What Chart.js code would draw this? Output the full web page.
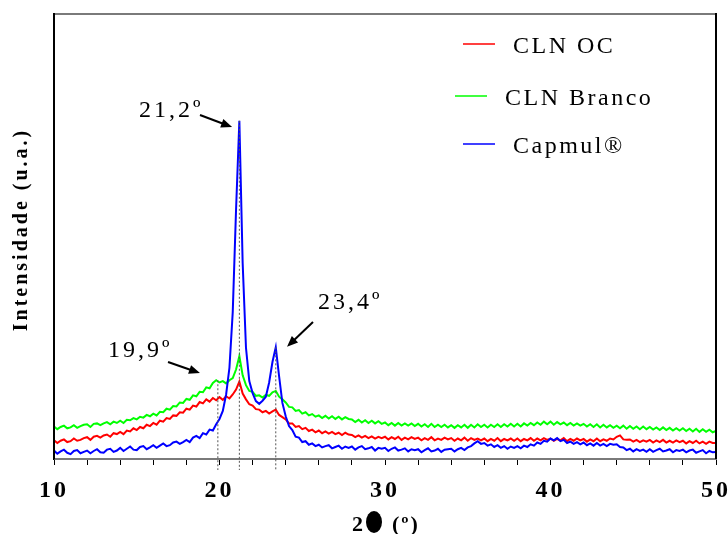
<!DOCTYPE html>
<html>
<head>
<meta charset="utf-8">
<script src="https://cdn.jsdelivr.net/npm/chart.js@4.4.1/dist/chart.umd.min.js"></script>
<style>
  html, body { margin: 0; padding: 0; background: #fff; overflow: hidden; }
  canvas { display: block; }
</style>
</head>
<body>
<canvas id="xrd" width="728" height="534"></canvas>
<script>
// difratogramas: 2θ de 10 a 50 com passo de 0,2
const thetaStart = 10;
const thetaStep = 0.2;

const seriesNames = ['CLN OC', 'CLN Branco', 'Capmul®'];
const seriesColors = ['#ff0000', '#00ff00', '#0000ff'];

const clnOC = [
  4.2, 3.6, 4.1, 4.4, 3.8, 4.0, 4.6, 4.1, 4.3, 4.7,
  4.9, 4.3, 5.0, 5.2, 4.8, 5.3, 5.5, 5.0, 5.8, 5.6,
  6.1, 5.6, 6.4, 6.2, 6.9, 6.5, 7.2, 6.9, 7.7, 7.4,
  8.1, 7.7, 8.6, 8.4, 9.2, 9.0, 9.8, 9.7, 10.5, 10.4,
  11.3, 11.1, 12.0, 11.8, 12.8, 12.5, 13.4, 12.9, 13.7, 13.2,
  13.9, 13.3, 14.1, 13.6, 14.5, 15.6, 17.4, 14.7, 13.4, 12.3,
  12.0, 11.2, 11.1, 10.5, 10.8, 10.2, 10.7, 11.1, 9.9, 9.4,
  8.9, 8.0, 8.0, 7.2, 7.4, 6.7, 7.0, 6.3, 6.6, 6.0,
  6.4, 5.8, 6.2, 5.7, 6.1, 5.6, 5.9, 5.4, 5.9, 5.5,
  5.4, 4.9, 5.3, 4.8, 5.2, 4.7, 5.1, 4.6, 5.0, 4.7,
  5.0, 4.4, 4.9, 4.5, 5.0, 4.3, 4.8, 4.4, 4.9, 4.5,
  4.8, 4.2, 4.7, 4.3, 4.9, 4.2, 4.6, 4.3, 4.8, 4.4,
  4.7, 4.1, 4.6, 4.2, 4.8, 4.1, 4.7, 4.3, 4.6, 4.2,
  4.6, 4.0, 4.5, 4.1, 4.7, 4.0, 4.5, 4.2, 4.6, 4.1,
  4.6, 4.0, 4.5, 4.2, 4.7, 4.1, 4.6, 4.2, 4.7, 4.3,
  4.6, 4.1, 4.5, 4.2, 4.7, 4.0, 4.5, 4.1, 4.6, 4.2,
  4.5, 3.9, 4.4, 4.0, 4.6, 4.0, 4.4, 4.1, 4.6, 4.4,
  5.0, 5.3, 4.4, 4.3, 4.4, 3.9, 4.3, 3.8, 4.2, 3.9,
  4.3, 3.7, 4.2, 3.8, 4.3, 3.7, 4.1, 3.7, 4.2, 3.8,
  4.1, 3.5, 4.0, 3.6, 4.1, 3.5, 3.9, 3.4, 3.9, 3.6,
  3.6
];

const clnBranco = [
  7.3, 6.7, 7.2, 7.5, 6.9, 7.1, 7.6, 7.0, 7.4, 7.7,
  7.8, 7.2, 7.9, 8.0, 7.6, 8.0, 8.3, 7.8, 8.4, 8.1,
  8.6, 8.1, 8.8, 8.7, 9.2, 8.9, 9.5, 9.3, 9.9, 9.6,
  10.2, 9.8, 10.6, 10.5, 11.3, 11.1, 11.9, 11.8, 12.7, 12.6,
  13.5, 13.3, 14.3, 14.1, 15.1, 15.0, 16.1, 15.9, 17.1, 17.7,
  17.2, 17.5, 17.0, 17.7, 18.2, 20.1, 23.1, 18.8, 16.6, 15.3,
  15.1, 14.2, 14.3, 13.8, 14.4, 14.2, 15.0, 15.3, 14.0, 13.4,
  12.7, 11.7, 11.6, 10.8, 11.0, 10.2, 10.5, 9.8, 10.1, 9.5,
  9.8, 9.2, 9.7, 9.1, 9.6, 9.0, 9.5, 8.9, 9.4, 9.0,
  8.9, 8.3, 8.8, 8.2, 8.7, 8.1, 8.6, 8.0, 8.5, 7.9,
  8.2, 7.6, 8.1, 7.5, 8.1, 7.5, 8.0, 7.5, 8.0, 7.4,
  7.9, 7.3, 7.8, 7.2, 7.9, 7.2, 7.7, 7.2, 7.7, 7.1,
  7.6, 7.0, 7.6, 7.1, 7.7, 7.0, 7.7, 7.1, 7.8, 7.2,
  7.7, 7.1, 7.7, 7.2, 7.8, 7.2, 7.8, 7.3, 7.9, 7.3,
  7.9, 7.3, 8.0, 7.5, 8.1, 7.6, 8.2, 7.7, 8.4, 7.8,
  8.4, 7.7, 8.3, 7.8, 8.2, 7.6, 8.1, 7.5, 8.0, 7.5,
  7.9, 7.3, 7.8, 7.2, 7.8, 7.1, 7.7, 7.1, 7.6, 7.0,
  7.5, 6.9, 7.5, 6.8, 7.4, 6.8, 7.3, 6.7, 7.3, 6.7,
  7.2, 6.6, 7.1, 6.5, 7.1, 6.5, 7.0, 6.4, 6.9, 6.4,
  6.9, 6.3, 6.8, 6.2, 6.8, 6.1, 6.7, 6.1, 6.6, 6.0,
  6.3
];

const capmul = [
  1.9, 1.2, 1.7, 2.1, 1.4, 1.1, 1.8, 2.0, 1.3, 1.6,
  1.9, 1.3, 1.8, 2.2, 1.5, 1.4, 2.1, 2.3, 1.6, 1.9,
  2.5, 1.8, 2.3, 2.8, 2.1, 2.0, 2.7, 2.9, 2.2, 2.6,
  3.1, 2.5, 3.0, 3.5, 2.9, 3.1, 3.7, 3.9, 3.4, 3.8,
  4.3, 3.8, 4.8, 5.2, 4.7, 5.8, 5.5, 6.6, 6.4, 7.8,
  9.0, 10.8, 14.5, 20.5, 33.0, 56.0, 76.0, 44.0, 25.0, 17.5,
  14.8, 13.0, 12.4, 13.1, 14.0, 17.2, 21.8, 25.1, 18.6, 12.6,
  9.6, 7.4, 6.5, 5.0, 4.8, 3.8, 4.0, 3.2, 3.5, 2.9,
  3.2, 2.6, 2.9, 3.1, 2.4, 2.7, 3.0, 2.3, 2.8, 2.5,
  2.8, 2.1, 2.6, 2.9, 2.2, 2.4, 2.7, 1.9, 2.5, 2.3,
  2.5, 1.8, 2.3, 2.6, 1.9, 2.1, 2.4, 1.7, 2.2, 2.0,
  2.2, 1.5, 2.0, 2.4, 1.7, 1.9, 2.3, 1.6, 2.1, 2.2,
  2.3, 1.7, 2.2, 2.5, 2.0, 2.6, 2.9, 3.5, 4.0, 3.4,
  3.6, 3.0, 3.3, 2.7, 3.1, 2.5, 2.9, 2.3, 2.8, 2.5,
  2.9, 2.4, 3.0, 2.7, 3.3, 3.0, 3.7, 3.4, 4.1, 3.9,
  4.6, 4.2, 4.7, 4.0, 4.3, 3.6, 3.9, 3.4, 3.8, 3.3,
  3.7, 3.1, 3.5, 3.0, 3.6, 3.0, 3.4, 2.9, 3.4, 3.2,
  3.3, 2.7, 2.6, 2.0, 2.3, 1.7, 2.2, 1.8, 2.1, 1.6,
  2.2, 1.6, 2.0, 2.3, 1.7, 1.9, 2.2, 1.5, 2.0, 1.8,
  2.1, 1.5, 1.9, 2.1, 1.4, 1.7, 2.0, 1.3, 1.8, 1.5,
  1.6
];

const xTickLabels = [10, 20, 30, 40, 50];

// picos marcados: texto, posição do texto, cauda e ponta da seta (em unidades dos eixos)
const peakLabels = [
  { text: '19,9º', at: 19.9, tx: 13.26, ty: 22.9, from: [16.89, 21.8], to: [18.82, 19.3] },
  { text: '21,2º', at: 21.2, tx: 15.14, ty: 76.9, from: [18.82, 77.3], to: [20.76, 74.6] },
  { text: '23,4º', at: 23.4, tx: 25.95, ty: 33.7, from: [25.65, 30.8], to: [24.08, 25.2] }
];

const allSeries = [clnOC, clnBranco, capmul];
const toPoints = arr => arr.map((y, i) => ({ x: thetaStart + i * thetaStep, y }));

function drawText(ctx, s, x, y, font, spacing, align) {
  ctx.save();
  ctx.font = font;
  ctx.letterSpacing = spacing + 'px';
  ctx.textAlign = align || 'left';
  ctx.textBaseline = 'alphabetic';
  ctx.fillStyle = '#000';
  ctx.fillText(s, x, y);
  ctx.restore();
}

function drawArrow(ctx, x1, y1, x2, y2) {
  const ang = Math.atan2(y2 - y1, x2 - x1);
  const head = 11;
  ctx.save();
  ctx.strokeStyle = '#000';
  ctx.fillStyle = '#000';
  ctx.lineWidth = 2;
  ctx.beginPath();
  ctx.moveTo(x1, y1);
  ctx.lineTo(x2 - Math.cos(ang) * head * 0.8, y2 - Math.sin(ang) * head * 0.8);
  ctx.stroke();
  ctx.beginPath();
  ctx.moveTo(x2, y2);
  ctx.lineTo(x2 - head * Math.cos(ang) + 4.5 * Math.sin(ang), y2 - head * Math.sin(ang) - 4.5 * Math.cos(ang));
  ctx.lineTo(x2 - head * Math.cos(ang) - 4.5 * Math.sin(ang), y2 - head * Math.sin(ang) + 4.5 * Math.cos(ang));
  ctx.closePath();
  ctx.fill();
  ctx.restore();
}

function strokeLine(ctx, x1, y1, x2, y2, color, width) {
  ctx.save();
  ctx.setLineDash([]);
  ctx.strokeStyle = color;
  ctx.lineWidth = width;
  ctx.beginPath();
  ctx.moveTo(x1, y1);
  ctx.lineTo(x2, y2);
  ctx.stroke();
  ctx.restore();
}

const decorations = {
  id: 'decorations',
  beforeDraw(chart) {
    // espaçamento entre letras dos números do eixo
    chart.ctx.letterSpacing = '3px';
  },
  afterDraw(chart) {
    const { ctx, chartArea: a, scales: { x, y } } = chart;

    // moldura: topo cinza, laterais pretas
    const l = Math.round(a.left), r = Math.round(a.right);
    const t = Math.round(a.top), b = Math.round(a.bottom);
    ctx.save();
    ctx.fillStyle = '#7a7a7a';
    ctx.fillRect(l - 1, t - 1, r - l + 2, 2);
    ctx.fillStyle = '#000';
    ctx.fillRect(l - 1, t - 1, 2, b - t + 1);
    ctx.fillRect(r - 1, t - 1, 2, b - t + 1);
    ctx.restore();

    // linhas pontilhadas nos picos
    peakLabels.forEach(p => {
      const i = Math.round((p.at - thetaStart) / thetaStep);
      const top = Math.max(...allSeries.map(s => s[i]));
      const px = x.getPixelForValue(p.at);
      ctx.save();
      ctx.strokeStyle = '#555';
      ctx.lineWidth = 1;
      ctx.setLineDash([2, 2]);
      ctx.beginPath();
      ctx.moveTo(px, y.getPixelForValue(top));
      ctx.lineTo(px, a.bottom + 11);
      ctx.stroke();
      ctx.restore();
    });

    // rótulos e setas
    peakLabels.forEach(p => {
      drawText(ctx, p.text, x.getPixelForValue(p.tx), y.getPixelForValue(p.ty), '24px "Liberation Serif"', 3);
      drawArrow(ctx, x.getPixelForValue(p.from[0]), y.getPixelForValue(p.from[1]),
        x.getPixelForValue(p.to[0]), y.getPixelForValue(p.to[1]));
    });

    // legenda
    const legendRows = [
      { line: [463, 495], y: 44, tx: 513 },
      { line: [455, 487], y: 96, tx: 505 },
      { line: [463, 495], y: 144, tx: 513 }
    ];
    legendRows.forEach((row, i) => {
      strokeLine(ctx, row.line[0], row.y, row.line[1], row.y, seriesColors[i], 1.5);
      drawText(ctx, seriesNames[i], row.tx, row.y + 9, '24px "Liberation Serif"', 2.5);
    });

    // títulos dos eixos
    const cx = (a.left + a.right) / 2;
    drawText(ctx, '2', cx - 33, 531, 'bold 22px "Liberation Serif"', 0);
    ctx.save();
    ctx.fillStyle = '#000';
    ctx.beginPath();
    ctx.ellipse(cx - 11, 522, 8, 11, 0, 0, Math.PI * 2);
    ctx.fill();
    ctx.restore();
    drawText(ctx, '(º)', cx + 7, 531, 'bold 22px "Liberation Serif"', 2);

    ctx.save();
    ctx.translate(27, (a.top + a.bottom) / 2 - 7);
    ctx.rotate(-Math.PI / 2);
    drawText(ctx, 'Intensidade (u.a.)', 0, 0, 'bold 20px "Liberation Serif"', 3, 'center');
    ctx.restore();
  }
};

new Chart(document.getElementById('xrd'), {
  type: 'line',
  data: {
    datasets: seriesNames.map((name, i) => ({
      label: name,
      data: toPoints(allSeries[i]),
      borderColor: seriesColors[i],
      borderWidth: 2,
      pointRadius: 0,
      tension: 0,
      order: [1, 2, 0][i]
    }))
  },
  options: {
    responsive: false,
    animation: false,
    layout: { padding: { left: 54, right: 12, top: 14, bottom: 35 } },
    plugins: { legend: { display: false }, tooltip: { enabled: false } },
    scales: {
      x: {
        type: 'linear',
        min: 10,
        max: 50,
        afterFit: s => { s.height = 40; s.paddingLeft = 0; s.paddingRight = 0; },
        border: { color: '#7a7a7a', width: 2 },
        grid: { drawOnChartArea: false, drawTicks: true, tickLength: 6, color: '#000' },
        ticks: {
          stepSize: 2,
          autoSkip: false,
          maxRotation: 0,
          padding: 11,
          color: '#000',
          font: { family: 'Liberation Serif', size: 24, weight: 'bold' },
          callback: v => xTickLabels.includes(v) ? String(v) : ''
        }
      },
      y: {
        min: 0,
        max: 100,
        afterFit: s => { s.width = 0; },
        border: { color: '#000', width: 1.5 },
        grid: { drawOnChartArea: false, drawTicks: false },
        ticks: { display: false }
      }
    }
  },
  plugins: [decorations]
});
</script>
</body>
</html>
